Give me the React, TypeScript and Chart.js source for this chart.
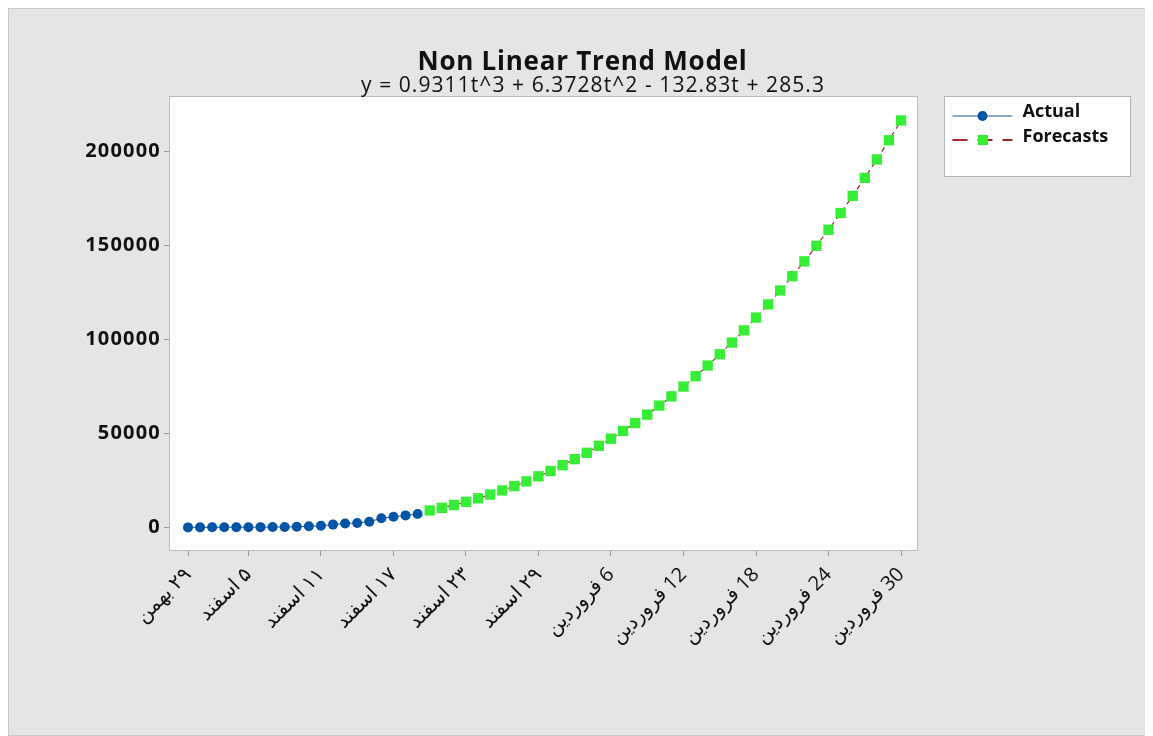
import React, { useEffect, useRef } from 'react';
import { Chart, registerables } from 'chart.js';

Chart.register(...registerables);

// ---- data ----
const actualValues = [20, 40, 60, 80, 100, 130, 160, 200, 250, 350, 600, 900, 1500, 2100, 2400, 3000, 4900, 5700, 6400, 7100];
const forecastStartIndex = 20;
const forecastValues = [
  9000, 10400, 11900, 13600, 15500, 17500, 19700, 22000, 24500, 27200,
  30000, 33100, 36300, 39700, 43400, 47200, 51300, 55500, 60000, 64800,
  69700, 74900, 80400, 86100, 92100, 98300, 104800, 111600, 118600, 126000,
  133600, 141500, 149800, 158300, 167200, 176300, 185900, 195700, 205900, 216400,
];
const tickPositions = [0, 5, 11, 17, 23, 29, 35, 41, 47, 53, 59];
const tickLabels = [
  '۲۹ بهمن', '۵ اسفند', '۱۱ اسفند', '۱۷ اسفند', '۲۳ اسفند', '۲۹ اسفند',
  '6 فروردین', '12 فروردین', '18 فروردین', '24 فروردین', '30 فروردین',
];
const yTickValues = [0, 50000, 100000, 150000, 200000];
const titleText = 'Non Linear Trend Model';
const subtitleText = 'y = 0.9311t^3 + 6.3728t^2 - 132.83t + 285.3';
const seriesNames = ['Actual', 'Forecasts'];

const FONT = "'Open Sans', 'Noto Sans', 'DejaVu Sans', sans-serif";
const XFONT = "'Open Sans', 'DejaVu Sans', sans-serif";
const BLUE = '#0255a6';
const BLUE_LINE = '#1f56a0';
const GREEN = '#36ee36';
const RED = '#a0282a';
const TEXT = '#111111';

function drawFitted(ctx: CanvasRenderingContext2D, text: string, cx: number, baseline: number, font: string, targetW: number) {
  ctx.save();
  ctx.font = font;
  (ctx as any).letterSpacing = '0px';
  const w = ctx.measureText(text).width;
  const ls = Math.max(0, (targetW - w) / text.length);
  (ctx as any).letterSpacing = `${ls}px`;
  ctx.textAlign = 'left';
  ctx.textBaseline = 'alphabetic';
  ctx.fillStyle = TEXT;
  ctx.fillText(text, cx - targetW / 2, baseline);
  ctx.restore();
}

const titlePlugin = {
  id: 'titles',
  afterDraw(chart: any) {
    const ctx = chart.ctx;
    drawFitted(ctx, titleText, 573.5, 61, `bold 26px ${FONT}`, 330);
    drawFitted(ctx, subtitleText, 584, 83, `21px ${FONT}`, 464);
  },
};

const spacingPlugin = {
  id: 'ySpacing',
  beforeDraw(chart: any) {
    const y = chart.scales.y;
    if (y && !y.__wrapped) {
      const orig = y.drawLabels.bind(y);
      y.drawLabels = (area: any) => {
        chart.ctx.save();
        (chart.ctx as any).letterSpacing = '1.2px';
        orig(area);
        chart.ctx.restore();
      };
      y.__wrapped = true;
    }
  },
};

const framePlugin = {
  id: 'frame',
  beforeDraw(chart: any) {
    const { ctx, chartArea: a } = chart;
    ctx.save();
    ctx.fillStyle = '#ffffff';
    ctx.fillRect(a.left, a.top, a.right - a.left, a.bottom - a.top);
    ctx.restore();
  },
  beforeDatasetsDraw(chart: any) {
    const { ctx, chartArea: a } = chart;
    ctx.save();
    ctx.strokeStyle = '#bdbdbd';
    ctx.lineWidth = 1;
    ctx.strokeRect(Math.round(a.left) - 0.5, Math.round(a.top) - 0.5, Math.round(a.right - a.left) + 1, Math.round(a.bottom - a.top) + 1);
    ctx.restore();
  },
};

const legendPlugin = {
  id: 'customLegend',
  afterDraw(chart: any) {
    const { ctx, chartArea: a } = chart;
    const x0 = Math.round(a.right) + 27.5;
    const y0 = Math.round(a.top) - 0.5;
    const w = 186;
    const h = 80;
    ctx.save();
    ctx.fillStyle = '#ffffff';
    ctx.fillRect(x0, y0, w, h);
    ctx.strokeStyle = '#b5b5b5';
    ctx.lineWidth = 1;
    ctx.strokeRect(x0, y0, w, h);

    // Actual
    const yA = y0 + 19.5;
    ctx.strokeStyle = BLUE_LINE;
    ctx.beginPath();
    ctx.moveTo(x0 + 8, yA);
    ctx.lineTo(x0 + 68, yA);
    ctx.stroke();
    ctx.fillStyle = BLUE;
    ctx.beginPath();
    ctx.arc(x0 + 38, yA, 5, 0, Math.PI * 2);
    ctx.fill();

    // Forecasts
    const yF = y0 + 43.5;
    ctx.strokeStyle = RED;
    ctx.lineWidth = 2;
    ctx.setLineDash([15, 10]);
    ctx.beginPath();
    ctx.moveTo(x0 + 8, yF);
    ctx.lineTo(x0 + 68, yF);
    ctx.stroke();
    ctx.setLineDash([]);
    ctx.fillStyle = GREEN;
    ctx.fillRect(x0 + 33.5, yF - 5, 10, 10);

    ctx.fillStyle = TEXT;
    ctx.font = `bold 18px ${FONT}`;
    ctx.textAlign = 'left';
    ctx.textBaseline = 'middle';
    ctx.fillText(seriesNames[0], x0 + 78, y0 + 15);
    ctx.fillText(seriesNames[1], x0 + 78, y0 + 40);
    ctx.restore();
  },
};

export default function App() {
  const canvasRef = useRef<HTMLCanvasElement | null>(null);

  useEffect(() => {
    document.documentElement.style.overflow = 'hidden';
    const canvas = canvasRef.current;
    if (!canvas) return;

    const actualData = actualValues.map((v, i) => ({ x: i, y: v }));
    const forecastData = forecastValues.map((v, i) => ({ x: forecastStartIndex + i, y: v }));

    const chart = new Chart(canvas, {
      type: 'line',
      data: {
        datasets: [
          {
            label: seriesNames[1],
            data: forecastData,
            borderColor: RED,
            borderWidth: 1.2,
            borderDash: [5, 4],
            pointStyle: 'rect',
            pointRadius: 7.3,
            pointBackgroundColor: GREEN,
            pointBorderColor: GREEN,
            pointBorderWidth: 0,
            fill: false,
            tension: 0,
          },
          {
            label: seriesNames[0],
            data: actualData,
            borderColor: BLUE_LINE,
            borderWidth: 1,
            pointStyle: 'circle',
            pointRadius: 5,
            pointBackgroundColor: BLUE,
            pointBorderColor: BLUE,
            pointBorderWidth: 0,
            fill: false,
            tension: 0,
          },
        ],
      },
      options: {
        responsive: false,
        animation: false,
        layout: { padding: { left: 0, right: 235, top: 88, bottom: 85 } },
        plugins: {
          legend: { display: false },
          tooltip: { enabled: false },
          title: { display: false },
          subtitle: { display: false },
        },
        scales: {
          x: {
            type: 'linear',
            min: -1.49,
            max: 60.32,
            afterBuildTicks: (axis: any) => {
              axis.ticks = tickPositions.map((v) => ({ value: v }));
            },
            afterFit: (scale: any) => {
              scale.height = 100;
            },
            grid: { drawOnChartArea: false, drawTicks: true, tickLength: 6, tickColor: '#9a9a9a' },
            border: { display: false },
            ticks: {
              autoSkip: false,
              minRotation: 45,
              maxRotation: 45,
              padding: 7,
              color: TEXT,
              font: { family: XFONT, size: 20 },
              callback: (value: any) => {
                const k = tickPositions.indexOf(Number(value));
                return k >= 0 ? '\u200F' + tickLabels[k] : '';
              },
            },
          },
          y: {
            type: 'linear',
            min: -12000,
            max: 228900,
            afterBuildTicks: (axis: any) => {
              axis.ticks = yTickValues.map((v) => ({ value: v }));
            },
            afterFit: (scale: any) => {
              scale.width = 161;
            },
            grid: { drawOnChartArea: false, drawTicks: true, tickLength: 6, tickColor: '#9a9a9a' },
            border: { display: false },
            ticks: {
              padding: 3,
              color: TEXT,
              font: { family: FONT, size: 20, weight: 'bold' },
              callback: (value: any) => String(value),
            },
          },
        },
      },
      plugins: [framePlugin, spacingPlugin, titlePlugin, legendPlugin],
    });

    return () => chart.destroy();
  }, []);

  return (
    <div
      style={{
        width: 1145,
        height: 728,
        boxSizing: 'border-box',
        background: '#e5e5e5',
        border: '1px solid #c9c9c9',
      }}
    >
      <canvas ref={canvasRef} width={1143} height={726} style={{ display: 'block', width: 1143, height: 726 }} />
    </div>
  );
}
